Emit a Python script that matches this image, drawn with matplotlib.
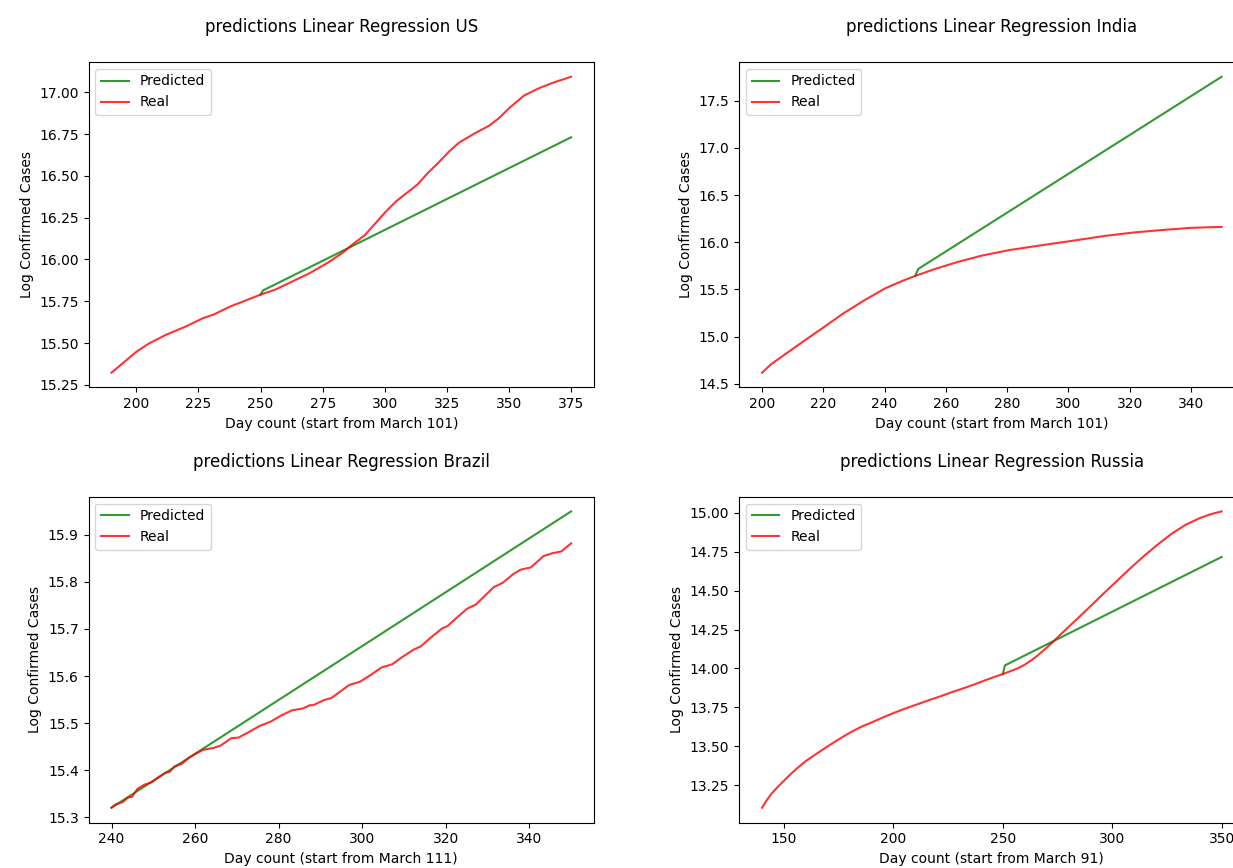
import matplotlib
matplotlib.use("Agg")
import matplotlib.pyplot as plt

# US
us_days = [190, 200, 205, 212, 220, 227, 231, 238, 250, 256, 263, 270, 277, 283, 287,
           292, 296, 300, 304.5, 309, 313, 317.5, 322, 326, 330, 336, 342, 346, 350.5,
           356, 362, 368, 375]
us_real = [15.323, 15.448, 15.497, 15.55, 15.60, 15.65, 15.67, 15.72, 15.79, 15.82,
           15.87, 15.92, 15.98, 16.04, 16.09, 16.146, 16.213, 16.28, 16.347, 16.40,
           16.446, 16.52, 16.585, 16.648, 16.70, 16.753, 16.80, 16.846, 16.911, 16.98,
           17.024, 17.059, 17.093]
us_pred_days = [250, 251, 375]
us_pred = [15.79, 15.815, 16.731]

# India
in_days = [200, 203, 206.7, 212.5, 219.5, 226.4, 233.3, 240.3, 246.1, 250, 256.5, 263.5,
           271.6, 280.8, 290, 300.5, 312, 321.4, 330.6, 340, 350]
in_real = [14.619, 14.71, 14.795, 14.928, 15.086, 15.244, 15.384, 15.514, 15.595, 15.644,
           15.718, 15.788, 15.858, 15.918, 15.963, 16.012, 16.068, 16.104, 16.13,
           16.153, 16.163]
in_pred_days = [250, 251, 350]
in_pred = [15.644, 15.718, 17.753]

# Brazil
br_days = [240, 241, 242.7, 244, 244.9, 246.2, 247.9, 249.6, 251.3, 253, 253.9, 255.1,
           256.8, 258.5, 260.2, 261.9, 264.4, 266.1, 268.7, 270.4, 272.9, 275.5, 278.1,
           280.6, 283.2, 285.8, 287.5, 288.3, 290.9, 292.6, 295.2, 296.9, 299.5, 302,
           304.6, 307.2, 309.7, 312.3, 314, 316.6, 319.1, 320.4, 322.5, 325.1, 327.2,
           329.4, 331.5, 333.6, 336.2, 337.9, 340.4, 343.4, 345.5, 347.7, 350]
br_real = [15.320, 15.327, 15.332, 15.342, 15.343, 15.36, 15.369, 15.374, 15.385, 15.395,
           15.396, 15.408, 15.413, 15.426, 15.435, 15.443, 15.447, 15.452, 15.468, 15.469,
           15.481, 15.494, 15.503, 15.516, 15.527, 15.531, 15.538, 15.538, 15.549, 15.553,
           15.570, 15.581, 15.588, 15.602, 15.618, 15.625, 15.641, 15.656, 15.663, 15.683,
           15.701, 15.706, 15.723, 15.743, 15.752, 15.771, 15.789, 15.798, 15.817, 15.826,
           15.831, 15.855, 15.861, 15.865, 15.882]
br_pred_days = [240, 350]
br_pred = [15.32, 15.95]

# Russia
ru_days = [140, 142, 144, 147, 150, 153, 156.4, 160, 164.5, 168.5, 172.5, 176.5, 180.5,
           185, 190.2, 195, 200, 205, 210.4, 216, 221.7, 227, 232.9, 238, 242.3, 246, 250,
           253, 256.7, 260, 263.1, 266.5, 269.6, 273, 276, 282.4, 288.8, 295.3, 301.7,
           308.1, 314.5, 320.9, 327.3, 333.7, 340.2, 345, 350]
ru_real = [13.105, 13.15, 13.19, 13.236, 13.278, 13.32, 13.363, 13.405, 13.448, 13.486,
           13.522, 13.557, 13.59, 13.623, 13.654, 13.684, 13.713, 13.74, 13.767, 13.795,
           13.822, 13.849, 13.877, 13.903, 13.926, 13.945, 13.964, 13.98, 14.0, 14.024,
           14.053, 14.09, 14.128, 14.172, 14.213, 14.298, 14.383, 14.472, 14.557, 14.642,
           14.723, 14.798, 14.868, 14.925, 14.968, 14.992, 15.01]
ru_pred_days = [250, 251, 350]
ru_pred = [13.964, 14.02, 14.717]

panels = [
    ("US", "Day count (start from March 101)", us_days, us_real, us_pred_days, us_pred),
    ("India", "Day count (start from March 101)", in_days, in_real, in_pred_days, in_pred),
    ("Brazil", "Day count (start from March 111)", br_days, br_real, br_pred_days, br_pred),
    ("Russia", "Day count (start from March 91)", ru_days, ru_real, ru_pred_days, ru_pred),
]

fig = plt.figure(figsize=(12.33, 8.68), dpi=100)

# axes boxes (left, bottom, width, height); right column runs past the edge
boxes = [
    [0.0718, 0.5536, 0.41, 0.375],
    [0.5994, 0.5536, 0.41, 0.375],
    [0.0718, 0.0524, 0.41, 0.3755],
    [0.5994, 0.0524, 0.41, 0.3755],
]

for box, (country, xlab, days, real, pdays, pred) in zip(boxes, panels):
    ax = fig.add_axes(box)
    ax.plot(pdays, pred, color="green", alpha=0.8, label="Predicted")
    ax.plot(days, real, color="red", alpha=0.8, label="Real")
    ax.set_title("predictions Linear Regression " + country, fontsize=12, pad=21.5)
    ax.set_xlabel(xlab)
    ax.set_ylabel("Log Confirmed Cases")
    ax.legend(loc="upper left")

fig.savefig("out.png", dpi=100)
